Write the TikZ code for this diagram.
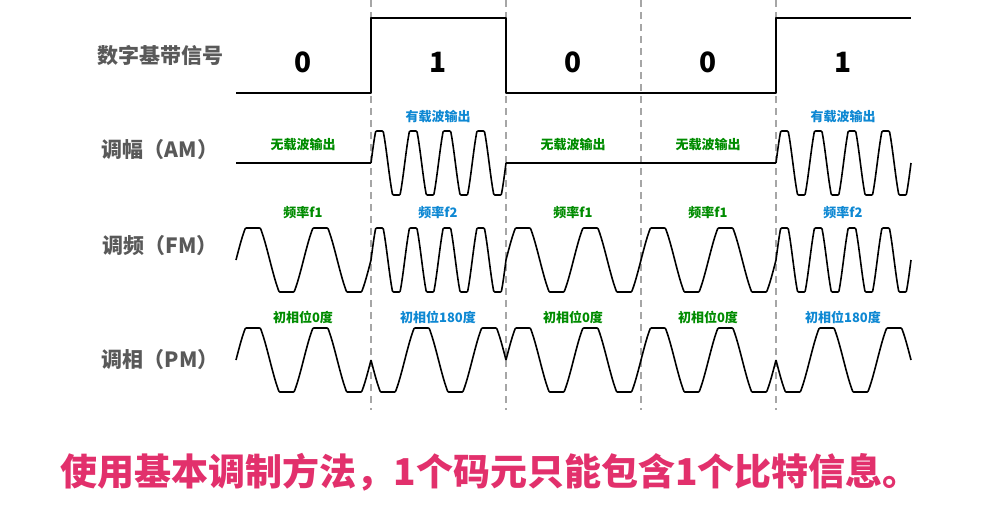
\documentclass[tikz,border=0pt]{standalone}
\usepackage{fontspec}
\setmainfont{Noto Sans CJK SC}
\newfontfamily\cjk{Noto Sans CJK SC}
\begin{document}
\begin{tikzpicture}[x=1pt,y=-1pt,
  wave/.style={line width=1.6pt,line join=round},
  lab/.style={font=\cjk\bfseries\fontsize{21}{21}\selectfont,text=black!65},
  bit/.style={font=\bfseries\fontsize{28}{28}\selectfont},
  gl/.style={font=\cjk\bfseries\fontsize{13}{13}\selectfont,text=green!55!black},
  bl/.style={font=\cjk\bfseries\fontsize{13}{13}\selectfont,text=cyan!70!blue},
  sep/.style={line width=1.3pt,gray!70,dash pattern=on 7pt off 5pt}]
\useasboundingbox (0,0) rectangle (982,507);
\fill[white] (0,0) rectangle (982,507);
\foreach \b in {371,506,641,776} \draw[sep] (\b,0) -- (\b,410);
% digital
\draw[wave] (236,93) -- (371,93) -- (371,18) -- (506,18) -- (506,93) -- (776,93) -- (776,18) -- (911,18);
\foreach \t/\x in {0/303,1/438,0/573,0/708,1/843} \node[bit] at (\x,62) {\t};
% labels
\node[lab] (l1) at (160,55) {数字基带信号};
\node[lab] (l2) at (160,150) {调幅（AM）};
\node[lab] (l3) at (160,246) {调频（FM）};
\node[lab] (l4) at (160,360) {调相（PM）};
% wave segments: start, centre, step angle per sample, sign
\newcommand{\wseg}[4]{%
  \draw[wave] (#1,#2) \foreach \n in {1,...,120}{
    -- ({#1+1.125*\n},{#2-32*(#4)*max(-1,min(1,1.3*sin(#3*\n)))}) };}
% AM
\draw[wave] (236,163) -- (371,163);
\wseg{371}{163}{12}{1}
\draw[wave] (506,163) -- (776,163);
\wseg{776}{163}{12}{1}
\foreach \x in {303,573,708} \node[gl] at (\x,145) {无载波输出};
\foreach \x in {438,843} \node[bl] at (\x,117) {有载波输出};
% FM
\wseg{236}{260}{6}{1}
\wseg{371}{260}{12}{1}
\wseg{506}{260}{6}{1}
\wseg{641}{260}{6}{1}
\wseg{776}{260}{12}{1}
\foreach \x in {303,573,708} \node[gl] at (\x,213) {频率f1};
\foreach \x in {438,843} \node[bl] at (\x,213) {频率f2};
% PM
\wseg{236}{360}{6}{1}
\wseg{371}{360}{6}{-1}
\wseg{506}{360}{6}{1}
\wseg{641}{360}{6}{1}
\wseg{776}{360}{6}{-1}
\foreach \x in {303,573,708} \node[gl] at (\x,317) {初相位0度};
\foreach \x in {438,843} \node[bl] at (\x,317) {初相位180度};
\node[font=\cjk\bfseries\fontsize{37}{37}\selectfont,text={rgb,255:red,226;green,48;blue,108}] (bt) at (490,472) {使用基本调制方法，1个码元只能包含1个比特信息。};
\end{tikzpicture}
\end{document}
